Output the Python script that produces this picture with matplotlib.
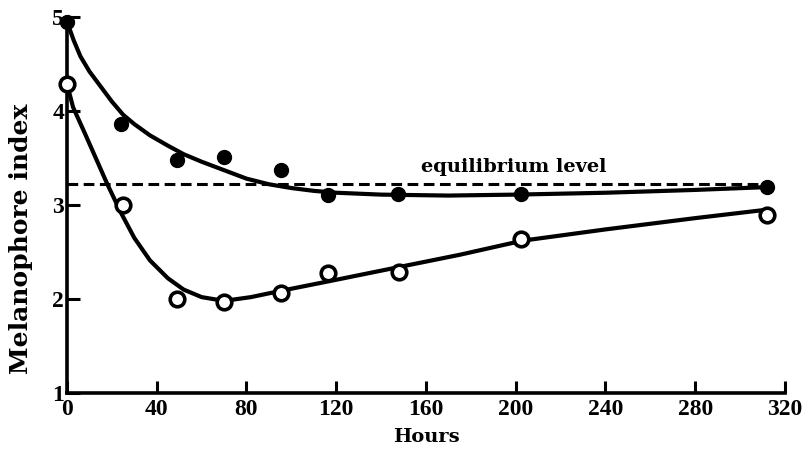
import matplotlib.pyplot as plt

# measured points
hours_dark = [0, 24, 49, 70, 95.5, 116.5, 147.5, 202.5, 312]
index_dark = [4.95, 3.86, 3.48, 3.51, 3.37, 3.11, 3.12, 3.12, 3.19]
hours_open = [0, 25, 49, 70, 95.5, 116.5, 148, 202.5, 312]
index_open = [4.29, 3.00, 2.00, 1.97, 2.06, 2.28, 2.29, 2.64, 2.89]

# smooth curves
curve_dark_x = [0, 3, 6, 10, 15, 20, 25, 30, 37, 45, 52, 60, 70, 80, 90, 100, 110, 120, 140, 170, 200, 240, 280, 312]
curve_dark_y = [4.95, 4.75, 4.58, 4.42, 4.26, 4.10, 3.96, 3.86, 3.74, 3.63, 3.54, 3.46, 3.37, 3.28, 3.22, 3.18, 3.15, 3.13, 3.11, 3.10, 3.11, 3.13, 3.16, 3.19]
curve_open_x = [0, 2.7, 8, 13, 18, 24, 30, 37, 45, 52, 60, 70, 82, 96, 117, 148, 175, 203, 240, 280, 312]
curve_open_y = [4.29, 4.04, 3.76, 3.49, 3.22, 2.92, 2.65, 2.41, 2.22, 2.10, 2.02, 1.98, 2.02, 2.09, 2.19, 2.34, 2.47, 2.62, 2.74, 2.86, 2.95]

equilibrium = 3.22
eq_x = [0, 310]

xticks = [0, 40, 80, 120, 160, 200, 240, 280, 320]
yticks = [1, 2, 3, 4, 5]

fig = plt.figure(figsize=(8.1, 4.57), dpi=100)
ax = fig.add_axes([0.0827, 0.140, 0.8864, 0.823])

ax.plot(curve_dark_x, curve_dark_y, color='black', lw=3, solid_capstyle='round', clip_on=False)
ax.plot(curve_open_x, curve_open_y, color='black', lw=3, solid_capstyle='round', clip_on=False)
ax.plot(eq_x, [equilibrium, equilibrium], color='black', lw=2.2, dashes=(3.5, 1.8))

ax.plot(hours_dark, index_dark, 'o', color='black', ms=10, zorder=5, clip_on=False)
ax.plot(hours_open, index_open, 'o', mfc='white', mec='black', mew=2.6, ms=10.5, zorder=5, clip_on=False)

ax.text(199, 3.40, 'equilibrium level', ha='center', va='center',
        fontsize=14, fontweight='bold', family='DejaVu Serif')

ax.set_xlim(0, 320)
ax.set_ylim(1, 5)
ax.set_xticks(xticks)
ax.set_yticks(yticks)
ax.set_xticklabels([str(t) for t in xticks], fontsize=17, fontweight='bold', family='Liberation Serif')
ax.set_yticklabels([str(t) for t in yticks], fontsize=17, fontweight='bold', family='Liberation Serif')
ax.tick_params(direction='in', length=9, width=2.2, pad=4)
ax.tick_params(axis='y', pad=2)

for s in ['top', 'right']:
    ax.spines[s].set_visible(False)
for s in ['left', 'bottom']:
    ax.spines[s].set_linewidth(2.6)

ax.set_xlabel('Hours', fontsize=14, fontweight='bold', family='DejaVu Serif', labelpad=6)
ax.set_ylabel('Melanophore index', fontsize=18, fontweight='bold', family='DejaVu Serif')
ax.yaxis.set_label_coords(-0.048, 0.41)

fig.savefig('out.png', dpi=100)
